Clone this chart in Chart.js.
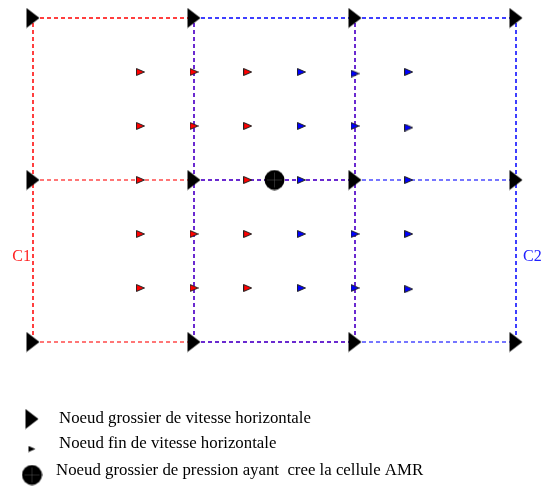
<!DOCTYPE html>
<html>
<head>
<meta charset="utf-8">
<script src="https://cdn.jsdelivr.net/npm/chart.js@4/dist/chart.umd.min.js"></script>
<style>
  html, body { margin: 0; padding: 0; background: #fff; }
  #wrap { width: 543px; height: 486px; }
</style>
</head>
<body>
<div id="wrap"><canvas id="chart" width="543" height="486"></canvas></div>
<script>
// ================= DATA (grid units) =================
const coarseX = [0, 3, 6, 9];
const coarseY = [0, 3, 6];

// fine velocity nodes
const redFine = [
    [2, 5], [3, 5], [4, 5],
    [2, 4], [3, 4], [4, 4],
    [2, 3], [3, 3], [4, 3],
    [2, 2], [3, 2], [4, 2],
    [2, 1], [3, 1], [4, 1]
];
const blueFine = [
    [5, 5], [6, 4.97], [7, 5],
    [5, 4], [6, 4], [7, 3.97],
    [5, 3], [6, 3], [7, 3],
    [5, 2], [6, 2], [7, 2],
    [5, 1], [6, 1], [7, 0.98]
];
const pressureNode = [[4.5, 3]];

// dashed cell edges
const redOuter = [[[0, 6], [3, 6]], [[0, 0], [0, 6]]];
const redInner = [[[0, 3], [3, 3]], [[0, 0], [3, 0]]];
const blueOuter = [[[3, 6], [9, 6]], [[9, 0], [9, 6]]];
const blueInner = [[[6, 3], [9, 3]], [[6, 0], [9, 0]]];
const sharedLines = [
    [[3, 0], [3, 6]], [[6, 0], [6, 6]], [[3, 3], [6, 3]], [[3, 0], [6, 0]]
];

const legendLabels = [
    'Noeud grossier de vitesse horizontale',
    'Noeud fin de vitesse horizontale',
    'Noeud grossier de pression ayant  cree la cellule AMR'
];
const cellLabels = ['C1', 'C2'];

// ================= MARKERS =================
function triangleImg(w, h, fill, stroke) {
    const c = document.createElement('canvas');
    c.width = w;
    c.height = h;
    const g = c.getContext('2d');
    g.beginPath();
    g.moveTo(0.5, 0.5);
    g.lineTo(w - 0.5, h / 2);
    g.lineTo(0.5, h - 0.5);
    g.closePath();
    g.fillStyle = fill;
    g.fill();
    if (stroke) {
        g.strokeStyle = stroke;
        g.lineWidth = 1;
        g.stroke();
    }
    return c;
}

function discImg(r) {
    const c = document.createElement('canvas');
    c.width = 2 * r + 1;
    c.height = 2 * r + 1;
    const g = c.getContext('2d');
    g.beginPath();
    g.arc(r + 0.5, r + 0.5, r, 0, Math.PI * 2);
    g.fillStyle = '#000';
    g.fill();
    g.strokeStyle = 'rgba(120,120,120,0.6)';
    g.lineWidth = 0.6;
    g.beginPath();
    g.moveTo(3, r + 0.5); g.lineTo(2 * r - 2, r + 0.5);
    g.moveTo(r + 0.5, 3); g.lineTo(r + 0.5, 2 * r - 2);
    g.stroke();
    return c;
}

const bigTri = triangleImg(14, 21, '#000');
const redTri = triangleImg(9, 8, '#ff0000', '#222');
const blueTri = triangleImg(9, 8, '#0000ff', '#222');
const smallBlackTri = triangleImg(8, 7, '#000');
const disc = discImg(10);

// ================= DATASETS =================
const toPts = arr => arr.map(p => ({ x: p[0], y: p[1] }));

function lineSets(list, color, width) {
    return list.map(seg => ({
        type: 'line',
        data: toPts(seg),
        borderColor: color,
        backgroundColor: color,
        borderWidth: width,
        borderDash: [4, 3],
        pointRadius: 0,
        fill: false,
        clip: false,
        order: 5
    }));
}

const coarsePts = [];
coarseY.forEach(y => coarseX.forEach(x => coarsePts.push({ x: x, y: y })));

const datasets = [
    { data: toPts(pressureNode), pointStyle: disc, clip: false, order: 0 },
    { data: coarsePts, pointStyle: bigTri, clip: false, order: 1 },
    { data: toPts(redFine), pointStyle: redTri, clip: false, order: 2 },
    { data: toPts(blueFine), pointStyle: blueTri, clip: false, order: 2 },
    ...lineSets(redOuter, '#ff0000', 1.5),
    ...lineSets(redInner, '#ff4a4a', 1.5),
    ...lineSets(blueOuter, '#0000ff', 1.5),
    ...lineSets(blueInner, '#4a4aff', 1.5),
    ...lineSets(sharedLines, '#6a2ad0', 2)
];

// ================= LABELS / LEGEND =================
const textPlugin = {
    id: 'texts',
    afterDraw(chart) {
        const ctx = chart.ctx;
        const xs = chart.scales.x, ys = chart.scales.y;
        ctx.save();
        ctx.font = '16px "Liberation Serif", serif';
        ctx.textBaseline = 'alphabetic';

        const yLab = ys.getPixelForValue(1.5);
        ctx.fillStyle = '#ff2020';
        ctx.textAlign = 'right';
        ctx.fillText(cellLabels[0], xs.getPixelForValue(0) - 2, yLab);
        ctx.fillStyle = '#2020ff';
        ctx.textAlign = 'left';
        ctx.fillText(cellLabels[1], xs.getPixelForValue(9) + 7, yLab);

        // legend under the grid
        const marks = [bigTri, smallBlackTri, disc];
        const rowY = [419, 449, 475];
        const textX = [59, 59, 56];
        const textY = [423, 448, 475];
        ctx.fillStyle = '#000';
        marks.forEach((m, i) => {
            ctx.drawImage(m, 32 - m.width / 2, rowY[i] - m.height / 2);
            ctx.save();
            ctx.translate(textX[i], textY[i]);
            ctx.scale(1.05, 1);
            ctx.fillText(legendLabels[i], 0, 0);
            ctx.restore();
        });
        ctx.restore();
    }
};

new Chart(document.getElementById('chart'), {
    type: 'scatter',
    data: { datasets: datasets },
    options: {
        responsive: false,
        animation: false,
        layout: { padding: { left: 33, right: 27, top: 18, bottom: 144 } },
        scales: {
            x: { type: 'linear', min: 0, max: 9, display: false },
            y: { type: 'linear', min: 0, max: 6, display: false }
        },
        plugins: {
            legend: { display: false },
            tooltip: { enabled: false }
        },
        elements: { point: { radius: 5 } }
    },
    plugins: [textPlugin]
});
</script>
</body>
</html>
